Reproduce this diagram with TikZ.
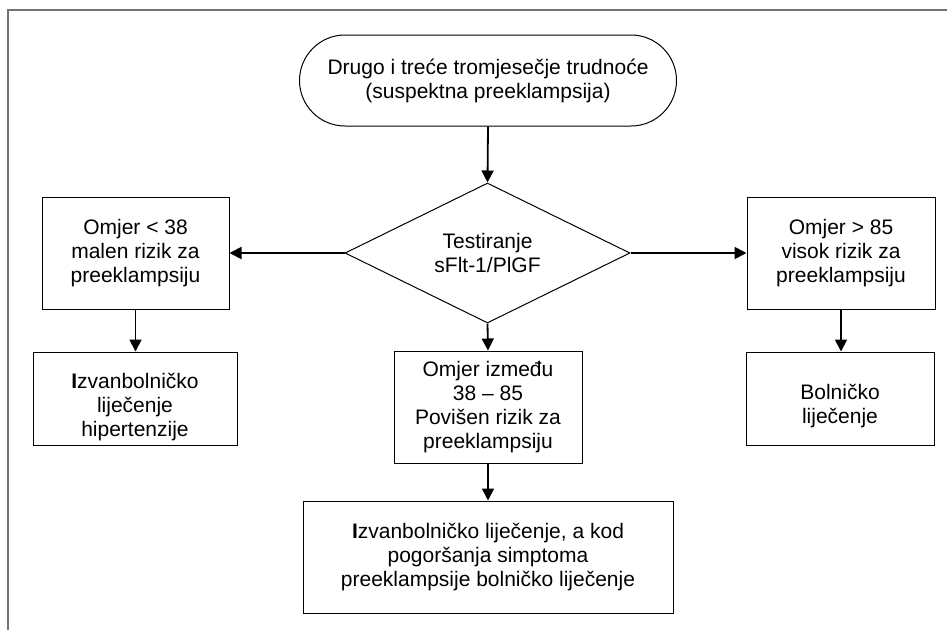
\documentclass[tikz,border=0pt]{standalone}
\usepackage{fontspec}
\setmainfont{Liberation Sans}
\usetikzlibrary{shapes.geometric,shapes.misc,arrows.meta}
\begin{document}
\begin{tikzpicture}[x=1pt,y=-1pt,
  every node/.style={font=\fontsize{21}{24}\selectfont, align=center, inner sep=0pt},
  box/.style={draw=black, line width=1pt, rectangle, fill=white},
  term/.style={draw=black, line width=1pt, rounded rectangle, fill=white},
  dec/.style={draw=black, line width=1pt, diamond, aspect=2.04, fill=white},
  txt/.style={},
  conn/.style={line width=1.8pt, -{Triangle[length=12pt,width=12pt]}},
  frame/.style={draw=black!55, line width=1.6pt}
]
\useasboundingbox (0,0) rectangle (947,630);
\draw[frame] (8,630) -- (8,10) -- (947,10);

\node[term, minimum width=377pt, minimum height=91pt] (start) at (488,80.5)
  {Drugo i treće tromjesečje trudnoće\\(suspektna preeklampsija)};

\node[dec, minimum width=285pt, minimum height=140pt] (test) at (487.5,253)
  {Testiranje\\sFlt-1/PlGF};

\node[box, minimum width=187pt, minimum height=112pt] (low) at (135.5,253)
  {Omjer < 38\\malen rizik za\\preeklampsiju};
\node[box, minimum width=188pt, minimum height=112pt] (high) at (841,253)
  {Omjer > 85\\visok rizik za\\preeklampsiju};
\node[box, minimum width=188pt, minimum height=112pt] (mid) at (488,407)
  {Omjer između\\38 – 85\\Povišen rizik za\\preeklampsiju};

\node[box, minimum width=204pt, minimum height=93pt] (out) at (135,398.5) {};
\node[txt] (outt) at ([yshift=-8.5pt]out.center)
  {\textbf{I}zvanbolničko\\liječenje\\hipertenzije};
\node[box, minimum width=188pt, minimum height=93pt] (hosp) at (840,398.5) {};
\node[txt] (hospt) at ([yshift=-8pt]hosp.center)
  {Bolničko\\liječenje};

\node[box, minimum width=370pt, minimum height=112pt] (final) at (488,557)
  {\textbf{I}zvanbolničko liječenje, a kod\\pogoršanja simptoma\\preeklampsije bolničko liječenje};

\draw[conn] (start.south) -- (test.north);
\draw[conn] (test.west) -- (low.east);
\draw[conn] (test.east) -- (high.west);
\draw[conn] (test.south) -- (mid.north);
\draw[conn] (low.south) -- (out.north -| low.south);
\draw[conn] (high.south) -- (hosp.north -| high.south);
\draw[conn] (mid.south) -- (final.north -| mid.south);
\end{tikzpicture}
\end{document}
